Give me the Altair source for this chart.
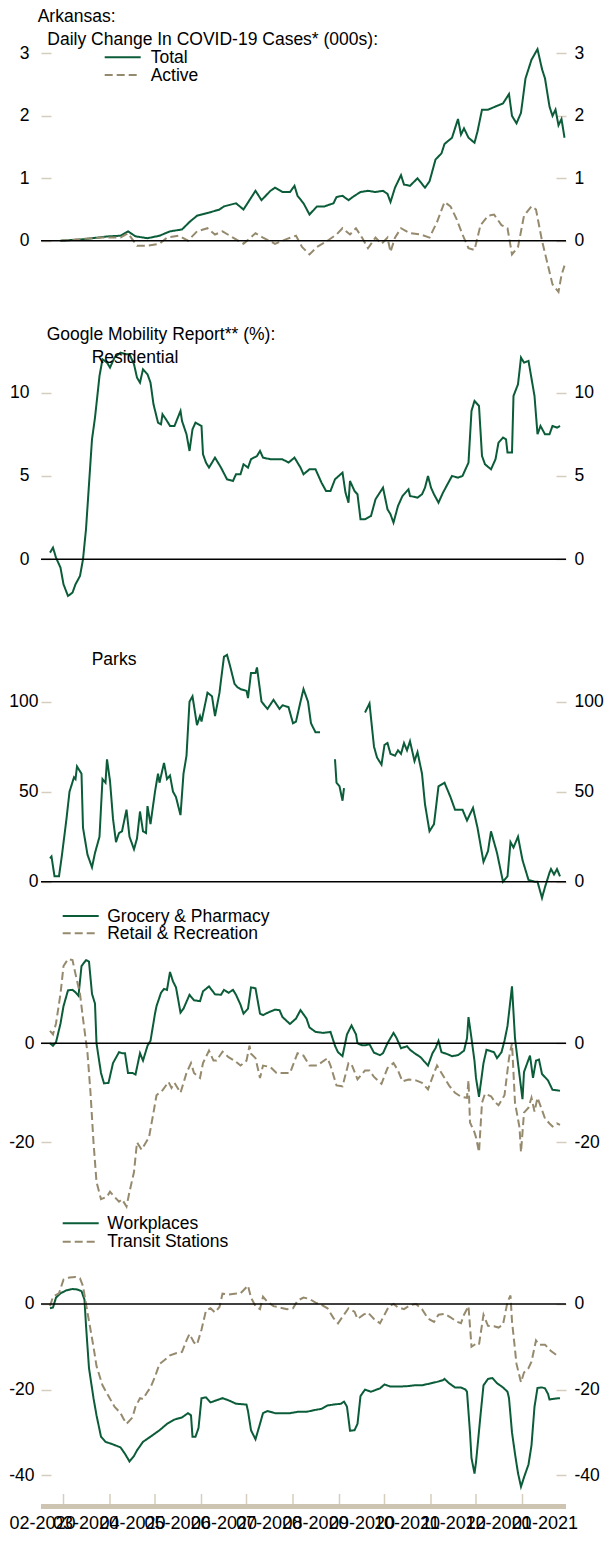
import altair as alt
import pandas as pd

# ---------------- data (day offsets from 2020-02-15, value) ----------------
START = "2020-02-15"

total = [(13,0.0),(27,0.02),(45,0.07),(53,0.08),(58,0.15),(63,0.07),(71,0.04),(79,0.08),(86,0.15),(94,0.18),
 (99,0.3),(104,0.4),(112,0.45),(119,0.5),(122,0.55),(130,0.6),(135,0.5),(139,0.65),(143,0.8),(147,0.65),
 (153,0.8),(156,0.85),(161,0.78),(166,0.78),(169,0.88),(171,0.72),(175,0.6),(179,0.42),(184,0.55),(189,0.55),
 (195,0.6),(197,0.7),(201,0.72),(205,0.65),(209,0.72),(213,0.78),(218,0.8),(223,0.78),(228,0.8),(231,0.75),
 (233,0.62),(236,0.85),(240,1.05),(242,0.9),(246,0.88),(251,1.0),(256,0.85),(259,0.95),(263,1.3),(267,1.4),
 (269,1.55),(274,1.65),(278,1.95),(280,1.7),(282,1.8),(285,1.65),(289,1.57),(291,1.75),(294,2.1),(298,2.1),
 (303,2.15),(308,2.2),(312,2.35),(314,2.0),(317,1.88),(320,2.05),(323,2.6),(327,2.9),(331,3.07),(334,2.75),
 (336,2.6),(339,2.15),(341,2.0),(343,2.1),(345,1.85),(347,1.95),(349,1.65)]

active = [(13,0.0),(40,0.05),(53,0.05),(58,0.12),(64,-0.08),(71,-0.08),(79,-0.05),(84,0.05),(92,0.08),(98,0.0),
 (104,0.15),(111,0.2),(116,0.1),(121,0.15),(128,0.05),(135,-0.05),(143,0.12),(148,0.05),(156,-0.05),(164,0.03),
 (170,0.08),(174,-0.1),(179,-0.22),(184,-0.1),(191,0.0),(197,0.1),(201,0.2),(206,0.1),(210,0.2),(214,0.05),
 (218,-0.12),(223,0.05),(227,-0.05),(231,0.05),(233,-0.18),(236,0.05),(240,0.2),(246,0.12),(253,0.1),(259,0.05),
 (264,0.3),(269,0.62),(273,0.55),(277,0.35),(281,0.1),(285,-0.12),(289,-0.15),(293,0.25),(298,0.4),(302,0.42),
 (307,0.25),(311,0.2),(314,-0.22),(318,-0.1),(322,0.4),(327,0.55),(330,0.5),(334,0.0),(338,-0.4),(341,-0.7),
 (345,-0.82),(347,-0.55),(349,-0.4)]

residential = [(6,0.4),(8,0.7),(10,0.1),(13,-0.5),(15,-1.5),(18,-2.2),(21,-2.0),(23,-1.5),(26,-1.0),(27,-0.5),
 (28,0.0),(30,1.8),(32,4.5),(34,7.2),(36,8.5),(39,11.0),(41,12.0),(44,11.8),(46,11.5),(49,12.1),(53,12.4),
 (57,12.3),(59,12.3),(62,11.7),(64,10.9),(66,10.6),(68,11.4),(71,11.1),(73,10.6),(75,9.3),(78,8.2),(80,8.1),
 (81,8.7),(84,8.3),(86,8.0),(89,8.0),(93,8.9),(94,8.3),(97,7.5),(99,6.5),(101,7.8),(103,8.2),(107,8.0),
 (108,6.3),(110,5.8),(112,5.5),(116,6.1),(120,5.5),(124,4.8),(128,4.7),(130,5.1),(133,5.1),(135,5.7),
 (138,5.5),(140,6.0),(144,6.2),(146,6.5),(148,6.1),(153,6.0),(161,6.0),(165,5.8),(169,6.1),(173,5.5),
 (175,5.1),(179,5.4),(183,5.4),(187,4.6),(190,4.1),(193,4.1),(196,4.8),(201,5.2),(203,4.0),(205,3.4),
 (206,4.7),(209,4.1),(211,3.9),(213,2.4),(216,2.4),(220,2.6),(223,3.6),(228,4.3),(231,3.0),(233,2.7),
 (235,2.2),(238,3.2),(241,3.8),(245,4.2),(246,3.8),(251,3.7),(254,3.9),(256,4.3),(258,5.0),(260,4.3),
 (262,3.9),(265,3.4),(268,4.0),(271,4.5),(274,5.0),(278,4.9),(281,5.0),(285,5.8),(287,8.9),(289,9.5),
 (292,9.2),(294,6.2),(296,5.7),(300,5.4),(303,6.0),(305,7.0),(308,7.3),(310,7.2),(311,6.4),(314,6.4),
 (315,9.8),(318,10.5),(320,12.1),(322,11.8),(325,11.9),(329,9.8),(331,7.5),(333,8.0),(336,7.5),(339,7.5),
 (341,8.0),(344,7.9),(346,8.0)]

parks_a = [(6,13),(7,14),(9,3),(12,3),(14,15),(17,35),(19,50),(22,58),(23,57),(24,64),(27,60),(28,30),(31,15),
 (34,8),(36,16),(39,25),(41,57),(43,55),(44,68),(46,56),(48,35),(50,22),(52,27),(54,28),(57,40),(59,25),
 (62,18),(64,24),(66,39),(68,28),(70,27),(71,42),(73,32),(76,50),(78,60),(79,55),(82,66),(84,57),(86,59),
 (88,50),(90,47),(93,37),(95,60),(97,70),(99,100),(101,103),(104,87),(106,92),(107,89),(109,97),(111,105),
 (114,103),(116,92),(119,105),(120,112),(122,125),(124,126),(126,120),(129,110),(131,108),(133,107),
 (137,106),(138,102),(140,116),(143,116),(144,119),(147,100),(151,96),(155,101),(159,96),(161,98),
 (165,97),(168,88),(170,89),(173,100),(175,107),(178,100),(180,88),(183,83),(186,83)]
parks_b = [(196,68),(197,55),(199,53),(201,45),(202,52)]
parks_c = [(216,94),(219,99),(222,75),(224,69),(227,65),(229,76),(231,77),(233,71),(236,70),(238,73),(240,71),
 (242,77),(244,73),(246,78),(249,67),(251,72),(254,60),(256,43),(259,28),(262,32),(265,53),(269,55),
 (273,47),(276,40),(281,40),(284,34),(288,41),(291,30),(295,11),(298,17),(300,28),(304,16),(308,0),
 (311,3),(313,22),(315,19),(318,25),(321,12),(325,1),(329,0),(331,0),(334,-9),(336,-3),(339,5),(340,7),
 (342,4),(344,7),(346,3)]

grocery = [(6,0.0),(8,-0.5),(10,0.2),(13,4.0),(15,7.5),(18,10.7),(21,10.8),(23,10.3),(25,9.6),(27,15.6),
 (28,16.0),(30,16.8),(32,16.5),(34,10.0),(36,8.0),(37,0.0),(40,-6.0),(42,-8.1),(45,-8.0),(48,-4.0),(52,-1.8),
 (54,-2.0),(56,-2.0),(58,-6.0),(61,-6.0),(63,-6.3),(66,-2.0),(68,-3.5),(71,-0.5),(73,0.5),(76,6.0),(77,7.5),
 (80,10.2),(82,11.0),(84,10.8),(86,14.4),(88,12.5),(90,11.3),(93,6.2),(95,7.0),(99,9.8),(102,8.7),(106,8.5),
 (108,10.5),(112,11.5),(116,9.9),(120,9.8),(122,10.8),(125,10.2),(128,10.8),(130,9.8),(133,7.8),(135,6.0),
 (138,7.0),(140,11.3),(143,11.1),(146,6.0),(148,5.7),(152,6.3),(156,6.8),(159,6.7),(161,5.3),(166,3.9),
 (170,5.0),(173,6.7),(177,5.0),(179,3.2),(183,2.3),(188,2.1),(193,2.3),(196,-0.5),(198,-1.8),(201,-2.6),
 (204,1.8),(207,3.6),(210,1.8),(211,0.0),(214,-0.4),(216,-0.4),(219,-0.2),(222,-1.9),(226,-2.4),(228,-2.0),
 (231,0.0),(235,2.1),(237,1.1),(240,-1.0),(244,-0.6),(246,-1.3),(249,-2.0),(253,-2.8),(255,-3.5),(258,-4.5),
 (261,-2.0),(263,-1.0),(265,0.5),(267,-1.8),(271,-2.2),(274,-2.6),(278,-2.4),(282,-1.5),(284,1.0),(285,5.3),
 (287,1.0),(289,-3.6),(290,-7.0),(292,-10.8),(295,-4.0),(297,-1.3),(300,-1.6),(302,-1.8),(304,-3.0),
 (307,-1.8),(309,0.5),(311,3.5),(314,11.5),(316,1.0),(318,-4.0),(321,-11.3),(322,-5.8),(325,-3.3),
 (326,-2.5),(328,-7.0),(330,-3.5),(332,-3.3),(334,-6.2),(338,-7.5),(341,-9.4),(344,-9.5),(346,-9.6)]

retail = [(6,2.5),(8,1.8),(10,4.0),(13,10.0),(15,15.6),(18,17.0),(21,16.8),(23,14.0),(26,10.0),(28,5.0),
 (31,-2.0),(33,-10.0),(35,-20.0),(37,-28.0),(40,-31.5),(44,-31.0),(46,-30.0),(49,-31.0),(52,-32.0),
 (54,-31.5),(57,-33.0),(59,-30.0),(62,-26.0),(64,-20.0),(67,-21.5),(70,-20.0),(72,-19.0),(75,-14.0),
 (77,-10.5),(81,-9.5),(85,-7.8),(87,-9.0),(89,-8.0),(93,-10.0),(97,-6.0),(100,-4.0),(102,-6.0),(106,-7.0),
 (108,-4.0),(112,-1.5),(115,-3.5),(117,-3.5),(121,-1.7),(125,-2.8),(129,-3.5),(133,-4.5),(137,-3.5),
 (139,-0.5),(140,-2.1),(143,-3.0),(146,-7.0),(148,-4.5),(153,-4.8),(157,-6.0),(161,-6.0),(166,-6.0),
 (171,-2.0),(175,-2.5),(179,-4.5),(184,-4.5),(191,-3.0),(193,-4.5),(197,-8.5),(201,-8.7),(205,-4.0),
 (207,-4.2),(211,-7.3),(216,-5.5),(219,-5.5),(222,-6.8),(227,-8.2),(231,-5.0),(235,-4.0),(238,-5.5),
 (241,-7.7),(245,-7.3),(250,-7.5),(254,-8.0),(258,-9.3),(262,-6.0),(264,-4.5),(268,-6.5),(272,-8.5),
 (276,-10.0),(280,-10.8),(284,-11.0),(285,-7.5),(286,-16.0),(289,-18.0),(290,-19.0),(292,-22.0),
 (294,-12.0),(296,-10.2),(300,-10.7),(303,-12.0),(305,-12.5),(309,-10.5),(312,-3.0),(314,0.0),(316,-12.0),
 (319,-17.0),(320,-22.0),(322,-14.0),(325,-13.0),(327,-11.0),(329,-13.8),(331,-11.0),(334,-13.5),
 (336,-15.2),(339,-16.2),(341,-16.8),(344,-16.2),(346,-16.5)]

workplaces = [(6,-1.0),(8,-0.8),(10,1.5),(13,2.5),(17,3.2),(21,3.5),(24,3.4),(27,3.0),(29,1.0),(30,-5.0),
 (32,-15.0),(35,-22.0),(37,-26.0),(40,-31.0),(43,-32.2),(48,-32.8),(53,-33.5),(56,-35.0),(59,-36.8),
 (62,-35.5),(64,-34.2),(68,-32.2),(73,-31.0),(79,-29.5),(84,-28.0),(89,-27.0),(94,-26.5),(98,-25.5),
 (100,-26.0),(101,-31.0),(103,-31.0),(105,-29.0),(107,-22.0),(110,-21.8),(113,-23.0),(117,-22.5),
 (121,-22.0),(125,-22.5),(130,-23.3),(137,-23.5),(138,-25.0),(140,-29.5),(143,-31.6),(146,-28.0),
 (148,-25.5),(151,-25.0),(156,-25.5),(161,-25.5),(166,-25.5),(171,-25.2),(177,-25.2),(182,-24.8),
 (187,-24.5),(191,-23.7),(195,-23.5),(200,-23.3),(202,-22.8),(204,-24.0),(206,-29.6),(209,-29.5),
 (211,-28.0),(213,-21.5),(216,-20.0),(220,-20.5),(226,-19.7),(229,-18.8),(233,-19.3),(238,-19.3),
 (244,-19.2),(249,-19.0),(254,-19.0),(259,-18.6),(264,-18.2),(268,-17.8),(269,-17.5),(272,-18.5),
 (276,-19.5),(280,-19.5),(283,-20.0),(284,-20.5),(286,-30.0),(287,-36.0),(289,-39.6),(290,-37.0),
 (293,-26.0),(295,-19.0),(298,-17.5),(301,-17.3),(304,-18.5),(308,-19.5),(311,-20.5),(312,-22.0),
 (314,-30.0),(316,-35.0),(318,-39.5),(320,-42.7),(322,-40.5),(325,-37.5),(327,-33.0),(329,-24.0),
 (331,-19.6),(334,-19.5),(336,-19.7),(338,-21.0),(339,-22.3),(343,-22.1),(346,-22.0)]

transit = [(6,-0.5),(8,1.7),(12,2.5),(15,5.7),(19,6.2),(23,6.3),(26,6.0),(28,4.2),(30,0.0),(32,-4.0),
 (35,-10.0),(37,-14.5),(41,-19.0),(45,-21.5),(49,-24.0),(53,-25.5),(55,-26.8),(57,-28.0),(61,-26.5),
 (63,-24.0),(66,-22.0),(68,-22.2),(71,-20.5),(73,-19.5),(76,-17.0),(79,-14.0),(82,-13.2),(86,-12.0),
 (90,-11.5),(94,-11.2),(97,-8.5),(99,-7.0),(102,-9.0),(104,-9.5),(107,-6.0),(110,-1.5),(113,-1.0),
 (116,-2.0),(119,-0.7),(121,2.4),(125,2.2),(129,2.4),(133,2.5),(135,3.2),(138,4.3),(140,1.5),(143,-0.5),
 (146,-1.2),(148,1.7),(151,0.5),(155,-0.5),(159,-0.8),(164,-1.2),(168,-1.0),(171,0.8),(175,1.5),(179,1.2),
 (183,0.3),(187,-0.2),(191,-1.0),(195,-3.3),(198,-4.5),(202,-2.5),(205,-1.0),(209,-1.8),(211,-3.5),
 (215,-2.5),(218,-2.0),(222,-3.5),(226,-4.5),(229,-2.5),(232,-0.5),(235,0.0),(238,-0.8),(242,-1.2),
 (246,-0.3),(250,0.0),(254,-1.2),(258,-3.4),(262,-4.2),(265,-2.5),(269,-2.3),(273,-3.1),(277,-4.1),
 (280,-4.5),(282,-2.5),(285,-0.5),(287,-10.0),(290,-9.3),(292,-9.5),(295,-2.5),(298,-5.1),(302,-5.2),
 (305,-5.5),(308,-4.8),(311,0.5),(313,2.0),(314,-4.0),(317,-14.0),(320,-18.3),(322,-16.0),(325,-15.0),
 (327,-13.5),(330,-8.5),(332,-9.5),(336,-9.5),(340,-11.0),(344,-12.0)]

month_starts = ["2020-03-01", "2020-04-01", "2020-05-01", "2020-06-01", "2020-07-01", "2020-08-01",
                "2020-09-01", "2020-10-01", "2020-11-01", "2020-12-01", "2021-01-01"]
month_labels = ["02-2020", "03-2020", "04-2020", "05-2020", "06-2020", "07-2020", "08-2020",
                "09-2020", "10-2020", "11-2020", "12-2020", "01-2021"]
label_dates = ["2020-02-16", "2020-03-16", "2020-04-16", "2020-05-16", "2020-06-16", "2020-07-16",
               "2020-08-16", "2020-09-16", "2020-10-16", "2020-11-16", "2020-12-16", "2021-01-16"]

# series names, and whether each is drawn as the solid green or the dashed tan line
series_names = ["Total", "Active", "Residential", "Parks", "Grocery & Pharmacy", "Retail & Recreation",
                "Workplaces", "Transit Stations"]
series_dashed = [False, True, False, False, False, True, False, True]

# ---------------- styling ----------------
GREEN = "#0b5c38"
TAN = "#968a6e"
TICK = "#d6cebd"
BAR = "#cdc5b1"
FONT = "Liberation Sans"
W = 525
OX = 40.3  # page x of the plot's left edge (used to place annotations)

COLOR_SCALE = alt.Scale(domain=series_names, range=[TAN if d else GREEN for d in series_dashed])
DASH_SCALE = alt.Scale(domain=series_names, range=[[8, 4] if d else [1, 0] for d in series_dashed])


def frame(pairs, series, seg=0):
    base = pd.Timestamp(START)
    return pd.DataFrame({
        "date": [(base + pd.Timedelta(days=d)).strftime("%Y-%m-%dT00:00:00") for d, _ in pairs],
        "value": [v for _, v in pairs],
        "series": series,
        "seg": seg,
    })


xscale = alt.Scale(domain=[alt.DateTime(year=2020, month=2, date=15),
                           alt.DateTime(year=2021, month=1, date=30)])

ONE = alt.Data(values=[{}])


def yaxis(orient, values, pad):
    return alt.Axis(orient=orient, values=values, offset=-10, tickSize=10, tickColor=TICK,
                    tickWidth=1.5, domain=False, grid=False, labelFontSize=17.5, labelFont=FONT,
                    labelColor="black", labelPadding=pad, title=None,
                    labelExpr="datum.value + ''")


def text(t, x, y, size=17.5):
    return alt.Chart(ONE).mark_text(text=t, align="left", baseline="alphabetic", fontSize=size,
                                    font=FONT, color="black").encode(x=alt.value(x - OX), y=alt.value(y))


def sample(x1, x2, y, dashed):
    kw = dict(color=TAN if dashed else GREEN, strokeWidth=2)
    if dashed:
        kw["strokeDash"] = [8, 4]
    return alt.Chart(ONE).mark_rule(**kw).encode(x=alt.value(x1 - OX), x2=alt.value(x2 - OX),
                                                 y=alt.value(y))


def panel(df, domain, ticks, height, lpad, extra, data_layers=()):
    ys = alt.Scale(domain=domain, nice=False, zero=False)
    lines = alt.Chart(df).mark_line(strokeWidth=2).encode(
        x=alt.X("date:T", scale=xscale, axis=None),
        y=alt.Y("value:Q", scale=ys, axis=yaxis("left", ticks, lpad)),
        color=alt.Color("series:N", scale=COLOR_SCALE, legend=None),
        strokeDash=alt.StrokeDash("series:N", scale=DASH_SCALE, legend=None),
        detail="seg:N",
    )
    zero = alt.Chart(ONE).mark_rule(color="black", strokeWidth=1.5).encode(
        y=alt.YDatum(0, type="quantitative", scale=ys, axis=yaxis("right", ticks, 8)))
    layers = [lines, zero] + list(data_layers) + list(extra)
    return alt.layer(*layers).resolve_scale(y="independent").properties(width=W, height=height)


# Panel 1: cases (panel top = page y 8)
df1 = pd.concat([frame(total, "Total"), frame(active, "Active")])
p1 = panel(df1, [-0.950, 3.729], [0, 1, 2, 3], 292, 12, [
    text("Arkansas:", 37, 14),
    text("Daily Change In COVID-19 Cases* (000s):", 46.6, 36.7),
    sample(104, 140, 49.3, False), text("Total", 150, 55.3),
    sample(104, 140, 67, True), text("Active", 150, 72.7),
])

# Panel 2: residential (top = page y 300)
df2 = frame(residential, "Residential")
p2 = panel(df2, [-3.041, 15.555], [0, 5, 10], 310, 12, [
    text("Google Mobility Report** (%):", 46, 39.7),
    text("Residential", 91, 63),
])

# Panel 3: parks (top = page y 610)
df3 = pd.concat([frame(parks_a, "Parks", 0), frame(parks_b, "Parks", 1), frame(parks_c, "Parks", 2)])
p3 = panel(df3, [-10.17, 150.94], [0, 50, 100], 290, 3, [
    text("Parks", 91, 55),
])

# Panel 4: grocery / retail (top = page y 900)
df4 = pd.concat([frame(grocery, "Grocery & Pharmacy"), frame(retail, "Retail & Recreation")])
p4 = panel(df4, [-33.68, 28.95], [-20, 0], 310, 7, [
    sample(62, 98, 16, False), text("Grocery & Pharmacy", 106.5, 21.7),
    sample(62, 98, 33.3, True), text("Retail & Recreation", 106.5, 39.3),
])

# Panel 5: workplaces / transit (top = page y 1210), with the date scale drawn underneath
df5 = pd.concat([frame(workplaces, "Workplaces"), frame(transit, "Transit Stations")])
month_df = pd.DataFrame({"date": [d + "T00:00:00" for d in month_starts]})
label_df = pd.DataFrame({"date": [d + "T00:00:00" for d in label_dates], "lab": month_labels})
month_ticks = alt.Chart(month_df).mark_rule(color=TICK, strokeWidth=1.5).encode(
    x=alt.X("date:T", scale=xscale, axis=None), y=alt.value(284), y2=alt.value(294))
bar = alt.Chart(ONE).mark_rule(color=BAR, strokeWidth=5).encode(y=alt.value(296.5))
month_text = alt.Chart(label_df).mark_text(align="center", baseline="alphabetic", fontSize=18,
                                           font=FONT, color="black").encode(
    x=alt.X("date:T", scale=xscale, axis=None), y=alt.value(319), text="lab:N")
p5 = panel(df5, [-44.39, 21.96], [-40, -20, 0], 284, 7, [
    sample(62, 98, 13.3, False), text("Workplaces", 106.5, 19.3),
    sample(62, 98, 31.7, True), text("Transit Stations", 106.5, 37.3),
], data_layers=[month_ticks, bar, month_text])

chart = alt.vconcat(p1, p2, p3, p4, p5, spacing=0, bounds="flush").properties(
    padding=0, background="white"
).configure_view(strokeWidth=0)

chart.save("out.html", embed_options={"renderer": "svg", "actions": False})
